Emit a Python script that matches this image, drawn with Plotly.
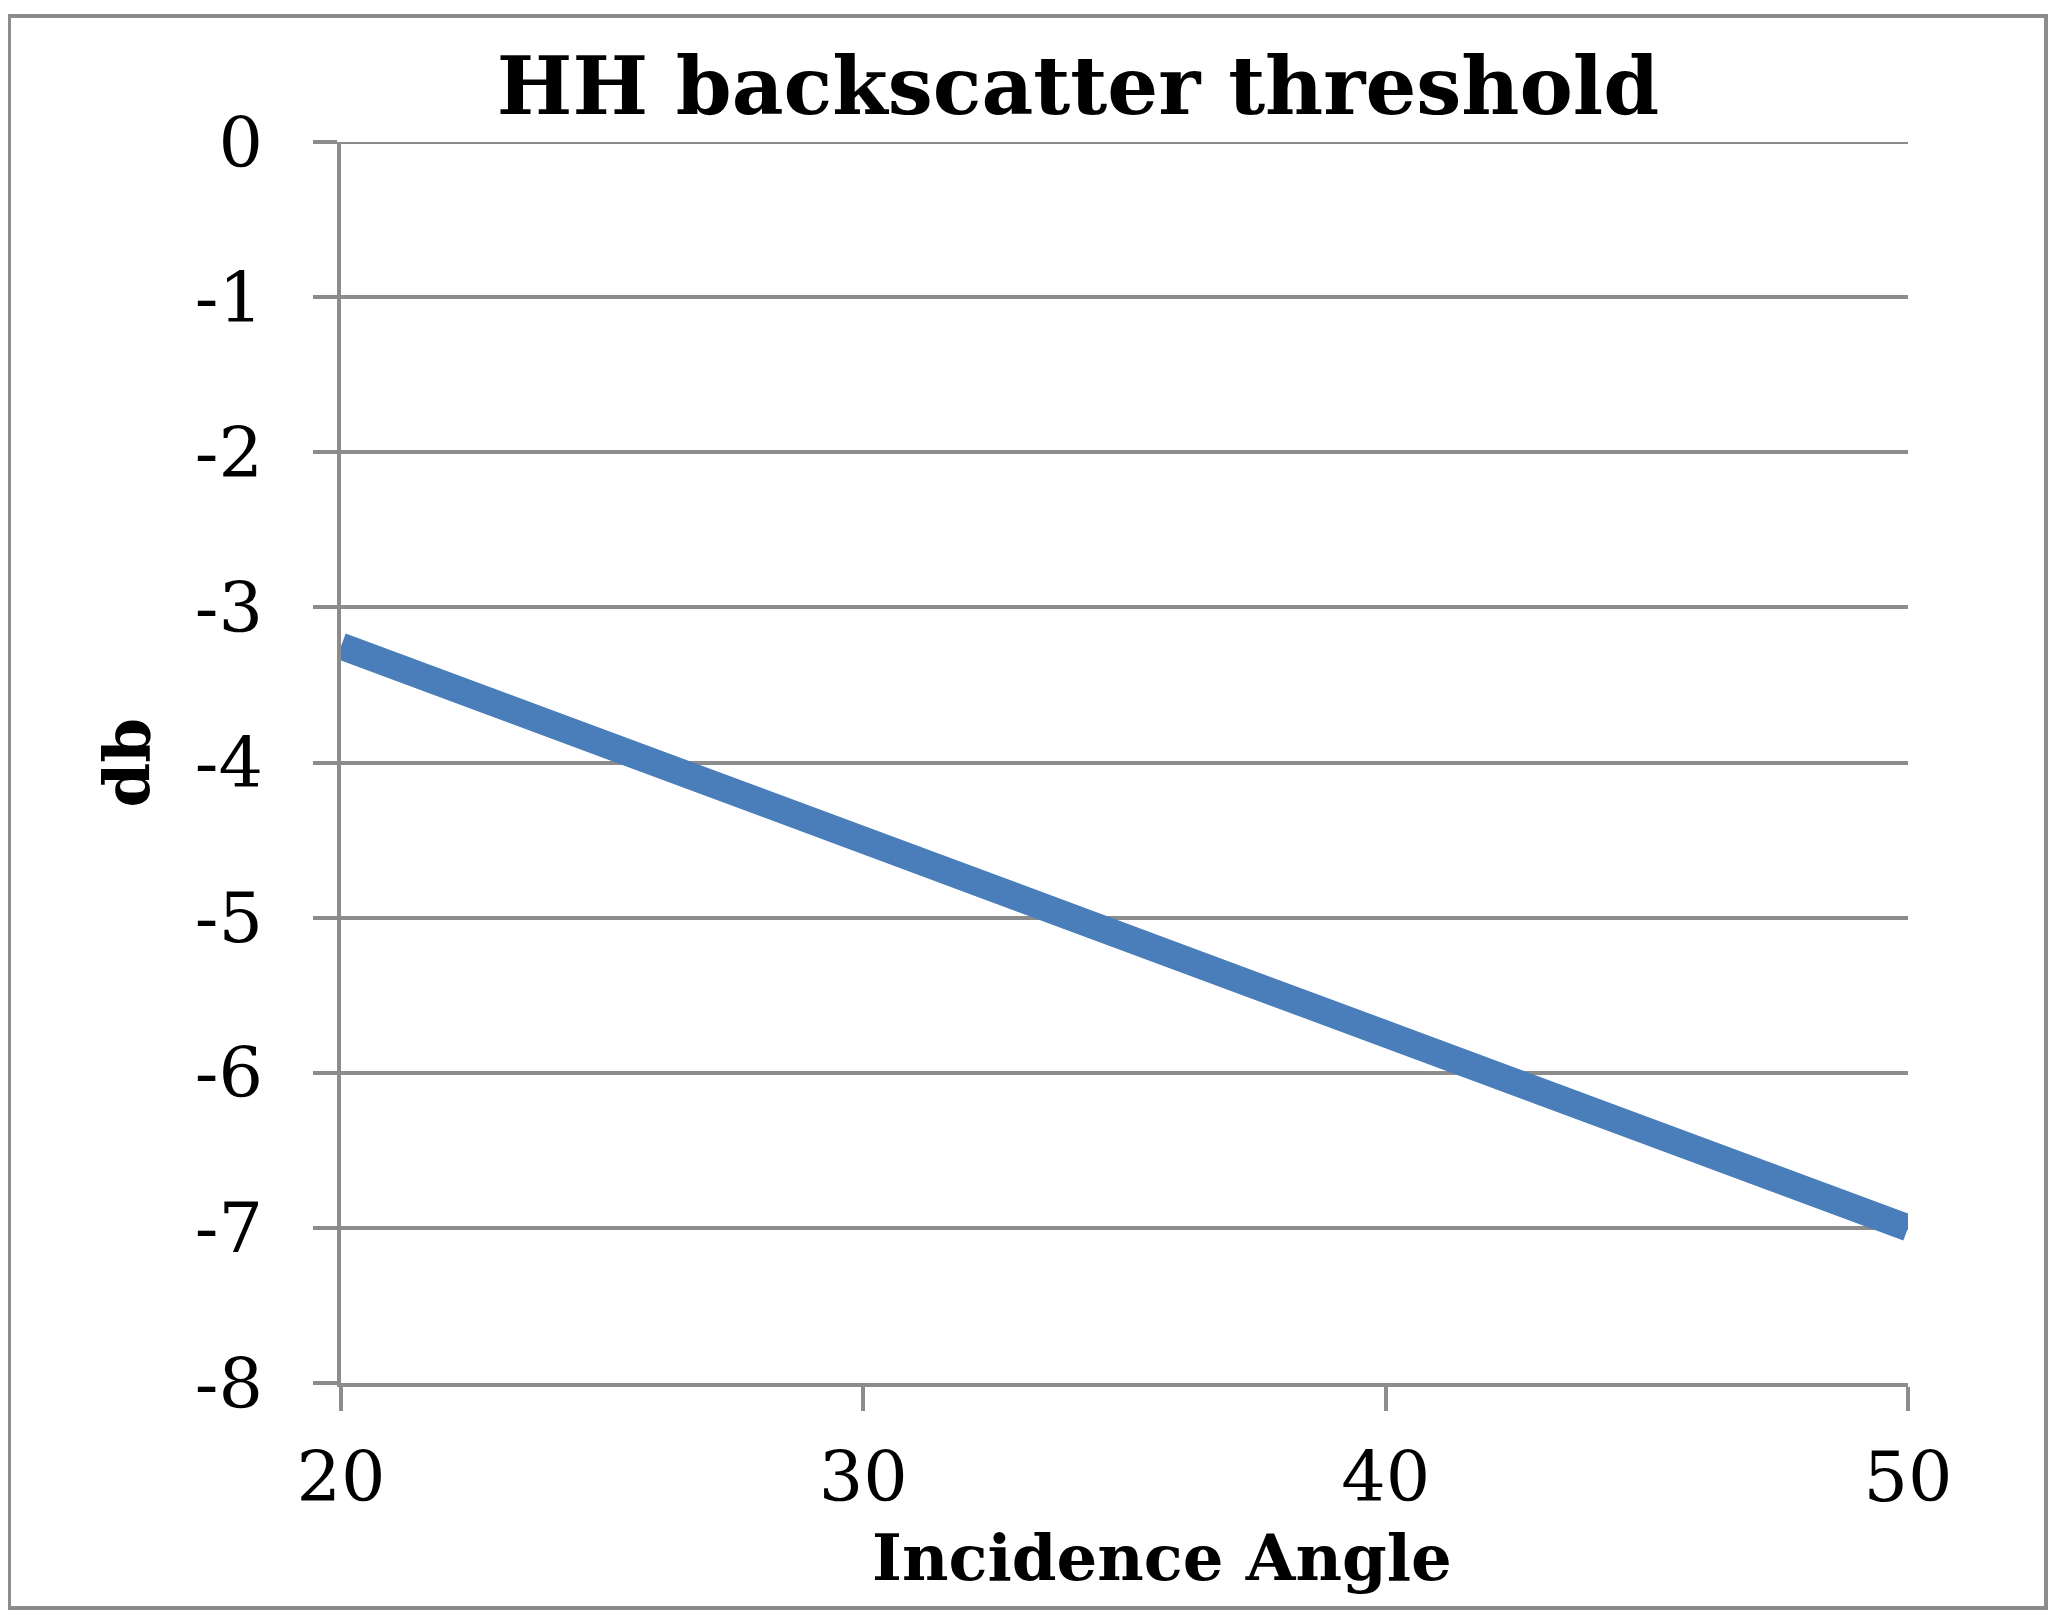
import plotly.graph_objects as go

# incidence angle (deg) vs HH backscatter threshold (dB)
angles = [20, 30, 40, 50]
threshold_db = [-3.25, -4.5, -5.75, -7.0]

x_ticks = [20, 30, 40, 50]
y_ticks = [0, -1, -2, -3, -4, -5, -6, -7, -8]
y_labels = [str(v) for v in y_ticks]  # plain hyphen, as in the original

# page body has an 8px margin, so the figure is a bit smaller than the window
W, H = 2040, 1606
L, T = 333, 134
R, B = W - 1900, H - 1375
GRID = "#8c8c8c"
SERIF = "DejaVu Serif, serif"

pw = W - L - R
ph = H - T - B

fig = go.Figure()
fig.add_trace(go.Scatter(
    x=angles, y=threshold_db, mode="lines",
    line=dict(color="#4A7EBB", width=27),
    showlegend=False, hoverinfo="skip",
))

fig.update_layout(
    width=W, height=H,
    margin=dict(l=L, r=R, t=T, b=B),
    paper_bgcolor="white", plot_bgcolor="white",
    font=dict(family=SERIF, color="black"),
    title=dict(
        text="<b>HH backscatter threshold</b>",
        font=dict(size=80, family=SERIF),
        x=(1070 - L) / pw, xref="paper", xanchor="center",
        y=1 - 78 / H, yref="container", yanchor="middle",
    ),
)

fig.update_xaxes(
    range=[20, 50], tickvals=x_ticks,
    showgrid=False, zeroline=False,
    showline=True, linecolor=GRID, linewidth=4,
    ticks="outside", ticklen=24, tickwidth=4, tickcolor=GRID,
    tickfont=dict(size=70, family=SERIF),
    ticklabelstandoff=6,
)
fig.update_yaxes(
    range=[-8, 0], tickvals=y_ticks, ticktext=y_labels,
    showgrid=True, gridcolor=GRID, gridwidth=4, zeroline=False,
    showline=True, linecolor=GRID, linewidth=4,
    ticks="outside", ticklen=24, tickwidth=4, tickcolor=GRID,
    tickfont=dict(size=70, family=SERIF),
    ticklabelstandoff=36,
)

# top gridline sits on the range edge, where plotly leaves it out
fig.add_shape(
    type="line", xref="paper", yref="y",
    x0=0, x1=1, y0=max(y_ticks), y1=max(y_ticks),
    line=dict(color=GRID, width=4), layer="below",
)

# axis titles placed by hand so they sit where the original has them
fig.add_annotation(
    text="<b>Incidence Angle</b>", showarrow=False,
    xref="paper", yref="paper",
    x=(1154 - L) / pw, y=-(1549 - (T + ph)) / ph,
    xanchor="center", yanchor="middle",
    font=dict(size=64, family=SERIF),
)
fig.add_annotation(
    text="<b>db</b>", showarrow=False, textangle=-90,
    xref="paper", yref="paper",
    x=-(L - 118) / pw, y=0.5,
    xanchor="center", yanchor="middle",
    font=dict(size=64, family=SERIF),
)

# outer frame round the whole chart
fig.add_shape(
    type="rect", xref="paper", yref="paper",
    x0=-(L - 1) / pw, x1=(2038 - L) / pw,
    y0=-(1600 - (T + ph)) / ph, y1=1 + (T - 8) / ph,
    line=dict(color="#8c8c8c", width=4), fillcolor="rgba(0,0,0,0)",
    layer="above",
)

fig.write_html("out.html")
